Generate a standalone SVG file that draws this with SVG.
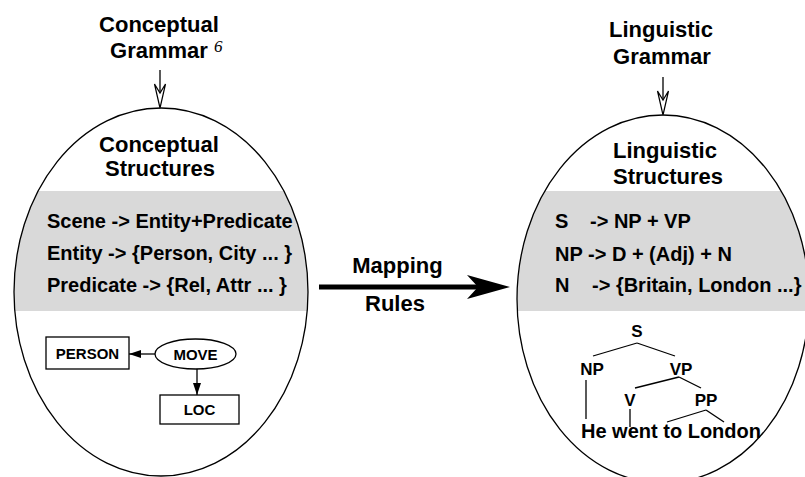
<svg xmlns="http://www.w3.org/2000/svg" width="805" height="477" viewBox="0 0 805 477">
<style>
  text { font-family: "Liberation Sans", Arial, sans-serif; font-weight: bold; fill: #000; }
  .title { font-size: 22px; text-anchor: middle; }
  .rule { font-size: 20px; }
  .small { font-size: 15px; text-anchor: middle; }
  .tree { font-size: 17px; text-anchor: middle; }
  .sent { font-size: 20px; }
  .sup { font-family: "Liberation Serif", "Times New Roman", serif; font-style: italic; font-weight: normal; font-size: 17px; }
  .outline { fill: none; stroke: #000; stroke-width: 1.3; }
  .band { fill: #d9d9d9; }
  .box { fill: #fff; stroke: #000; stroke-width: 1.3; }
  .thin { stroke: #000; stroke-width: 1.3; fill: none; }
  .openhead { fill: #fff; stroke: #000; stroke-width: 1.2; }
</style>
<defs>
  <clipPath id="clipL"><ellipse cx="161" cy="292" rx="147" ry="184"/></clipPath>
  <clipPath id="clipR"><ellipse cx="663" cy="299" rx="146" ry="184"/></clipPath>
  <marker id="solid" viewBox="0 0 12 8" refX="12" refY="4" markerWidth="12" markerHeight="8" markerUnits="userSpaceOnUse" orient="auto">
    <path d="M0,0 L12,4 L0,8 Z" fill="#000"/>
  </marker>
</defs>

<g id="conceptual-grammar">
  <text class="title" x="159" y="32">Conceptual</text>
  <text class="title" x="159" y="58">Grammar</text>
  <text class="sup" x="214" y="52">6</text>
</g>

<g id="linguistic-grammar">
  <text class="title" x="661" y="37">Linguistic</text>
  <text class="title" x="662" y="64">Grammar</text>
</g>

<g id="conceptual-structures">
  <rect class="band" x="0" y="191" width="320" height="120" clip-path="url(#clipL)"/>
  <ellipse class="outline" cx="161" cy="292" rx="147" ry="184"/>
  <text class="title" x="159" y="152">Conceptual</text>
  <text class="title" x="160" y="176">Structures</text>
  <text class="rule" x="47" y="228">Scene -&gt; Entity+Predicate</text>
  <text class="rule" x="47" y="260">Entity -&gt; {Person, City ... }</text>
  <text class="rule" x="47" y="292">Predicate -&gt; {Rel, Attr ... }</text>
</g>

<g id="linguistic-structures">
  <rect class="band" x="500" y="191" width="320" height="120" clip-path="url(#clipR)"/>
  <ellipse class="outline" cx="663" cy="299" rx="146" ry="184"/>
  <text class="title" x="665" y="158">Linguistic</text>
  <text class="title" x="668" y="184">Structures</text>
  <text class="rule" x="555" y="228">S</text>
  <text class="rule" x="590" y="228">-&gt; NP + VP</text>
  <text class="rule" x="555" y="261">NP -&gt; D + (Adj) + N</text>
  <text class="rule" x="555" y="292">N</text>
  <text class="rule" x="592" y="292">-&gt; {Britain, London ...}</text>
</g>

<g id="person">
  <rect class="box" x="46" y="337" width="83" height="32"/>
  <text class="small" x="87.5" y="358.5">PERSON</text>
</g>
<g id="move">
  <ellipse class="box" cx="195.5" cy="354" rx="40.5" ry="15"/>
  <text class="small" x="195.5" y="360">MOVE</text>
</g>
<g id="loc">
  <rect class="box" x="160" y="395" width="79" height="29"/>
  <text class="small" x="199.5" y="415">LOC</text>
</g>

<g id="tree">
  <text class="tree" x="637" y="337">S</text>
  <text class="tree" x="592" y="375">NP</text>
  <text class="tree" x="681" y="375">VP</text>
  <text class="tree" x="630" y="406">V</text>
  <text class="tree" x="706" y="406">PP</text>
  <text class="sent" x="581" y="438">He went to London</text>
</g>

<g id="mapping-rules">
  <text class="title" x="397.5" y="273">Mapping</text>
  <text class="title" x="395" y="311">Rules</text>
</g>

<g id="connectors">
  <line class="thin" x1="160" y1="70" x2="160" y2="96"/>
  <path class="openhead" d="M154.5,84 L160,108 L165.5,84 L160,93 Z"/>
  <line class="thin" x1="663" y1="77" x2="663" y2="103"/>
  <path class="openhead" d="M657.5,91 L663,115 L668.5,91 L663,100 Z"/>
  <line class="thin" x1="155" y1="354" x2="129" y2="354" marker-end="url(#solid)"/>
  <line class="thin" x1="197" y1="369" x2="197" y2="395" marker-end="url(#solid)"/>
  <line class="thin" x1="637" y1="343" x2="593" y2="356"/>
  <line class="thin" x1="637" y1="343" x2="675" y2="356"/>
  <line class="thin" x1="679" y1="377" x2="635" y2="388"/>
  <line class="thin" x1="679" y1="377" x2="701" y2="388"/>
  <line class="thin" x1="706" y1="410" x2="667" y2="422"/>
  <line class="thin" x1="706" y1="410" x2="724" y2="422"/>
  <line class="thin" x1="586" y1="380" x2="586" y2="419"/>
  <line class="thin" x1="630" y1="409" x2="630" y2="427"/>
  <line x1="319" y1="287" x2="482" y2="287" stroke="#000" stroke-width="5"/>
  <path d="M510,287 L467,275 L478,287 L467,299 Z" fill="#000"/>
</g>
</svg>
